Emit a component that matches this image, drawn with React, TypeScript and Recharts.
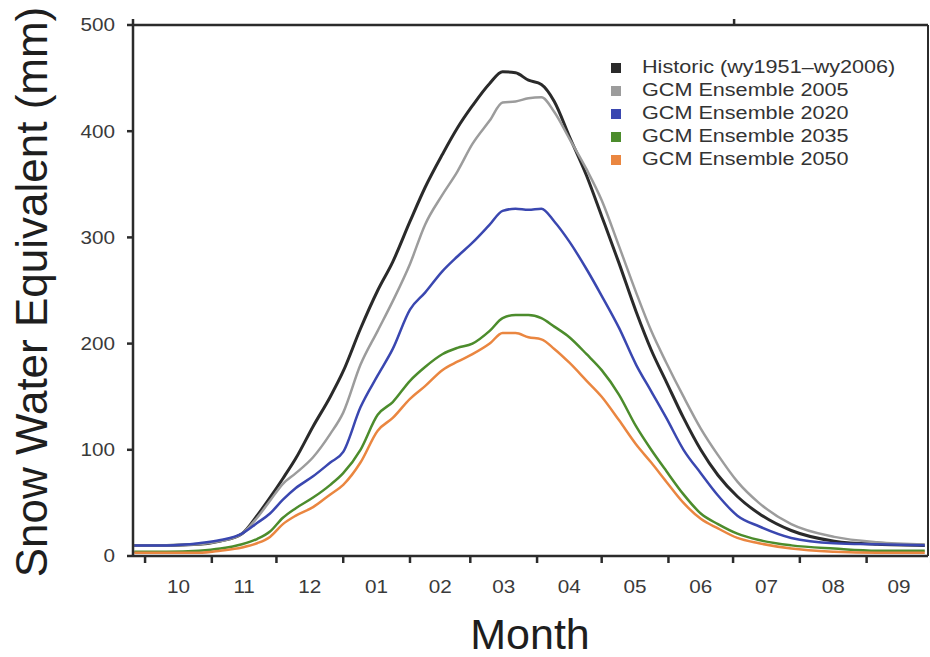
import React from 'react';
import { LineChart, Line, XAxis, YAxis, Legend } from 'recharts';

// Day of water year (0 = 1 Oct) for each sample
const days = [-5, 10, 25, 35, 45, 52, 58, 64, 70, 78, 86, 92, 100, 108, 115, 123, 130, 138, 145, 152, 160, 166, 172, 178, 184, 190, 197, 205, 212, 220, 228, 235, 242, 250, 258, 266, 275, 285, 300, 320, 340, 362];

// Mean snow water equivalent (mm)
const historic = [10, 10, 11, 14, 21, 38, 55, 73, 92, 122, 150, 174, 214, 250, 277, 315, 347, 378, 403, 424, 445, 456, 455, 448, 444, 428, 395, 358, 320, 276, 230, 194, 164, 130, 100, 76, 56, 40, 24, 14, 11, 10];
const gcm2005 = [10, 10, 11, 14, 21, 36, 52, 68, 78, 93, 115, 135, 180, 212, 240, 275, 312, 340, 362, 388, 410, 427, 428, 431, 432, 418, 393, 364, 335, 292, 248, 212, 182, 150, 120, 95, 70, 50, 30, 18, 13, 11];
const gcm2020 = [10, 10, 12, 15, 21, 31, 40, 53, 64, 75, 88, 98, 140, 170, 195, 232, 248, 268, 282, 295, 312, 325, 327, 326, 327, 315, 296, 270, 245, 215, 180, 155, 130, 100, 78, 57, 38, 28, 17, 12, 11, 10];
const gcm2035 = [4, 4, 5, 7, 11, 16, 23, 36, 45, 55, 67, 78, 100, 133, 145, 165, 178, 190, 196, 200, 212, 224, 227, 227, 224, 216, 206, 190, 175, 152, 122, 100, 80, 58, 40, 30, 21, 15, 10, 7, 5, 5];
const gcm2050 = [3, 3, 3, 5, 8, 12, 18, 30, 38, 46, 58, 67, 88, 118, 130, 148, 160, 175, 183, 190, 200, 210, 210, 206, 204, 195, 182, 165, 150, 128, 105, 88, 70, 50, 35, 26, 17, 12, 7, 4, 3, 3];

const seriesKeys = ['historic', 'gcm2005', 'gcm2020', 'gcm2035', 'gcm2050'];
const seriesNames = [
  'Historic (wy1951\u2013wy2006)',
  'GCM Ensemble 2005',
  'GCM Ensemble 2020',
  'GCM Ensemble 2035',
  'GCM Ensemble 2050',
];
const seriesColors = ['#2a2a2a', '#9c9c9c', '#3a47b0', '#4c8c2c', '#ea8640'];
const seriesWidths = [3, 2.5, 2.5, 2.5, 2.5];

// Month boundaries (day of water year) and the labels drawn between them
const monthStarts = [0, 31, 61, 92, 123, 151, 182, 212, 243, 273, 304, 335, 365];
const monthLabels = ['10', '11', '12', '01', '02', '03', '04', '05', '06', '07', '08', '09'];
const yTicks = [0, 100, 200, 300, 400, 500];

const data = days.map((d, i) => ({
  day: d,
  historic: historic[i],
  gcm2005: gcm2005[i],
  gcm2020: gcm2020[i],
  gcm2035: gcm2035[i],
  gcm2050: gcm2050[i],
}));

const WIDTH = 930;
const HEIGHT = 657;
const Y_AXIS_W = 133;
const RIGHT_W = 2;
const TOP_H = 25;
const BOTTOM_H = 101;
const X_DOMAIN: [number, number] = [-5.6, 363.5];
const PX_PER_DAY = (WIDTH - Y_AXIS_W - RIGHT_W) / (X_DOMAIN[1] - X_DOMAIN[0]);

const FONT = '"Liberation Sans", Arial, Helvetica, sans-serif';
const INK = '#2b2b2b';
const TEXT = '#3a3a3a';

const YTick = (props: any) => {
  const { x, y, payload } = props;
  return (
    <text
      transform={`translate(${x},${y}) scale(1.15,1)`}
      textAnchor="end"
      dominantBaseline="central"
      fontSize={18}
      fontFamily={FONT}
      fill={TEXT}
    >
      {payload.value}
    </text>
  );
};

const XTick = (props: any) => {
  const { x, y, payload } = props;
  const i = monthStarts.indexOf(payload.value);
  if (i < 0 || i >= monthLabels.length) return null;
  const half = ((monthStarts[i + 1] - monthStarts[i]) / 2) * PX_PER_DAY;
  return (
    <text
      transform={`translate(${x + half},${y + 22}) scale(1.15,1)`}
      textAnchor="middle"
      dominantBaseline="central"
      fontSize={18}
      fontFamily={FONT}
      fill={TEXT}
    >
      {monthLabels[i]}
    </text>
  );
};

const YTitle = () => (
  <text
    transform="translate(47,292) rotate(-90)"
    textAnchor="middle"
    fontSize={44}
    fontFamily={FONT}
    fill="#1e1e1e"
  >
    Snow Water Equivalent (mm)
  </text>
);

const XTitle = () => (
  <text x={530} y={649} textAnchor="middle" fontSize={43} fontFamily={FONT} fill="#1e1e1e">
    Month
  </text>
);

const LegendBox = () => (
  <div style={{ fontFamily: FONT, fontSize: 18, color: '#333' }}>
    {seriesNames.map((n, i) => (
      <div key={n} style={{ display: 'flex', alignItems: 'center', height: 23 }}>
        <span
          style={{
            display: 'inline-block',
            width: 10,
            height: 10,
            background: seriesColors[i],
            marginRight: 21,
          }}
        />
        <span
          style={{
            display: 'inline-block',
            transform: 'scaleX(1.2)',
            transformOrigin: 'left center',
            whiteSpace: 'nowrap',
          }}
        >
          {n}
        </span>
      </div>
    ))}
  </div>
);

export default function App() {
  return (
    <div style={{ position: 'absolute', left: 0, top: 0, background: '#fff' }}>
      <LineChart
        width={WIDTH}
        height={HEIGHT}
        data={data}
        margin={{ top: 0, right: 0, bottom: 0, left: 0 }}
      >
        <XAxis
          dataKey="day"
          type="number"
          domain={X_DOMAIN}
          ticks={monthStarts}
          interval={0}
          allowDataOverflow
          height={BOTTOM_H}
          tickSize={7}
          tickMargin={2}
          stroke={INK}
          strokeWidth={2.5}
          tick={<XTick />}
          label={<XTitle />}
        />
        <XAxis
          xAxisId="top"
          orientation="top"
          type="number"
          domain={X_DOMAIN}
          ticks={monthStarts}
          interval={0}
          allowDataOverflow
          height={TOP_H}
          tickSize={6}
          tickFormatter={() => ''}
          stroke={INK}
          strokeWidth={2.5}
        />
        <YAxis
          type="number"
          domain={[0, 500]}
          ticks={yTicks}
          interval={0}
          allowDataOverflow
          width={Y_AXIS_W}
          tickSize={6}
          tickMargin={12}
          stroke={INK}
          strokeWidth={2.5}
          tick={<YTick />}
          label={<YTitle />}
        />
        <YAxis
          yAxisId="right"
          orientation="right"
          type="number"
          domain={[0, 500]}
          width={RIGHT_W}
          tick={false}
          tickLine={false}
          stroke={INK}
          strokeWidth={2}
        />
        <Legend
          layout="vertical"
          align="center"
          verticalAlign="middle"
          content={<LegendBox />}
          wrapperStyle={{ position: 'absolute', left: 611, top: 56, width: 315 }}
        />
        {seriesKeys.map((k, i) => (
          <Line
            key={k}
            dataKey={k}
            name={seriesNames[i]}
            type="monotone"
            stroke={seriesColors[i]}
            strokeWidth={seriesWidths[i]}
            dot={false}
            activeDot={false}
            isAnimationActive={false}
          />
        ))}
      </LineChart>
    </div>
  );
}
